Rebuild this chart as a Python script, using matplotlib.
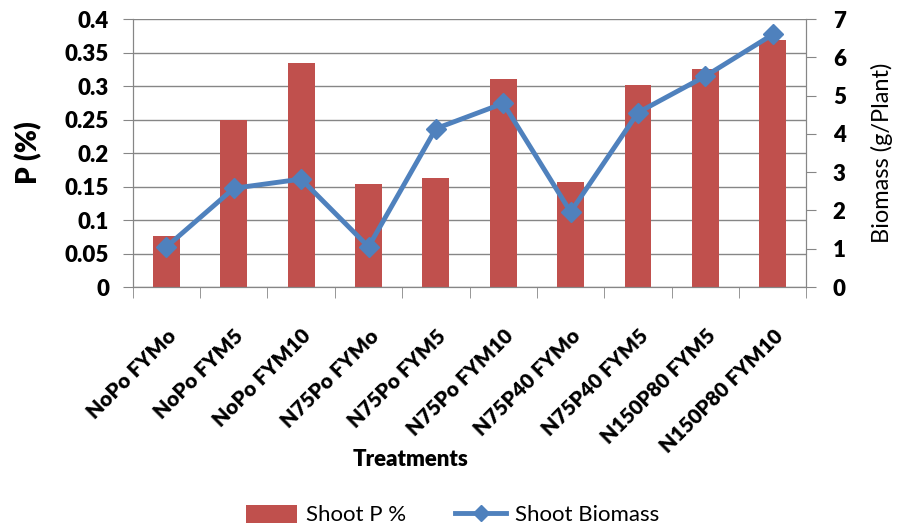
import matplotlib.pyplot as plt
import numpy as np
from matplotlib.lines import Line2D
from matplotlib.patches import Patch

treatments = ["NoPo FYMo", "NoPo FYM5", "NoPo FYM10", "N75Po FYMo", "N75Po FYM5",
              "N75Po FYM10", "N75P40 FYMo", "N75P40 FYM5", "N150P80 FYM5", "N150P80 FYM10"]
shoot_p = [0.076, 0.250, 0.335, 0.154, 0.163, 0.311, 0.157, 0.301, 0.325, 0.369]
biomass = [1.05, 2.58, 2.82, 1.05, 4.14, 4.80, 1.96, 4.56, 5.51, 6.60]

bar_col = "#C0504D"
line_col = "#4F81BD"
grid_col = "#868686"
plt.rcParams['font.family'] = ['Lato', 'DejaVu Sans']

fig = plt.figure(figsize=(8.97, 5.32), dpi=100)
ax = fig.add_axes([0.148, 0.4605, 0.751, 0.5035])
x = np.arange(len(treatments))

ax.bar(x, shoot_p, width=0.4, color=bar_col, zorder=2)
ax.set_xlim(-0.5, len(treatments) - 0.5)
ax.set_ylim(0, 0.4)
ax.set_yticks(np.arange(0, 0.41, 0.05))
ax.set_yticklabels(["0", "0.05", "0.1", "0.15", "0.2", "0.25", "0.3", "0.35", "0.4"],
                   fontsize=16, fontweight='heavy')
ax.yaxis.grid(True, color=grid_col, lw=1, zorder=0)
ax.set_axisbelow(True)
ax.tick_params(axis='y', length=7, color=grid_col, pad=10)

# category labels sit between boundary ticks
ax.set_xticks(x)
ax.set_xticklabels(treatments, rotation=45, ha='right', rotation_mode='anchor',
                   fontsize=15, fontweight='heavy')
ax.tick_params(axis='x', length=0, pad=28)
ax.set_xticks(np.arange(-0.5, len(treatments)), minor=True)
ax.tick_params(axis='x', which='minor', length=8, color=grid_col)

ax.spines['top'].set_visible(False)
for s in ['left', 'right', 'bottom']:
    ax.spines[s].set_color(grid_col)

ax.set_ylabel("P (%)", fontsize=20, fontweight='heavy', labelpad=16)
ax.set_xlabel("Treatments", fontsize=16, fontweight='heavy')
ax.xaxis.set_label_coords(0.413, -0.605)

ax2 = ax.twinx()
ax2.plot(x, biomass, color=line_col, lw=3.5, marker='D', markersize=10, zorder=3)
ax2.set_ylim(0, 7)
ax2.set_yticks(range(0, 8))
ax2.set_yticklabels([str(v) for v in range(0, 8)], fontsize=16, fontweight='heavy')
ax2.tick_params(axis='y', length=7, color=grid_col, pad=12)
ax2.spines['top'].set_visible(False)
for s in ['left', 'right', 'bottom']:
    ax2.spines[s].set_color(grid_col)
ax2.set_ylabel("Biomass (g/Plant)", fontsize=17, labelpad=18)

handles = [Patch(facecolor=bar_col, label="Shoot P %"),
           Line2D([0], [0], color=line_col, lw=3.5, marker='D', markersize=8, label="Shoot Biomass")]
fig.legend(handles=handles, loc='center', bbox_to_anchor=(0.505, 0.032), ncol=2, frameon=False,
           fontsize=16, handlelength=2.3, handleheight=0.9, handletextpad=0.4,
           columnspacing=2.2)

fig.savefig("out.png", dpi=100)
